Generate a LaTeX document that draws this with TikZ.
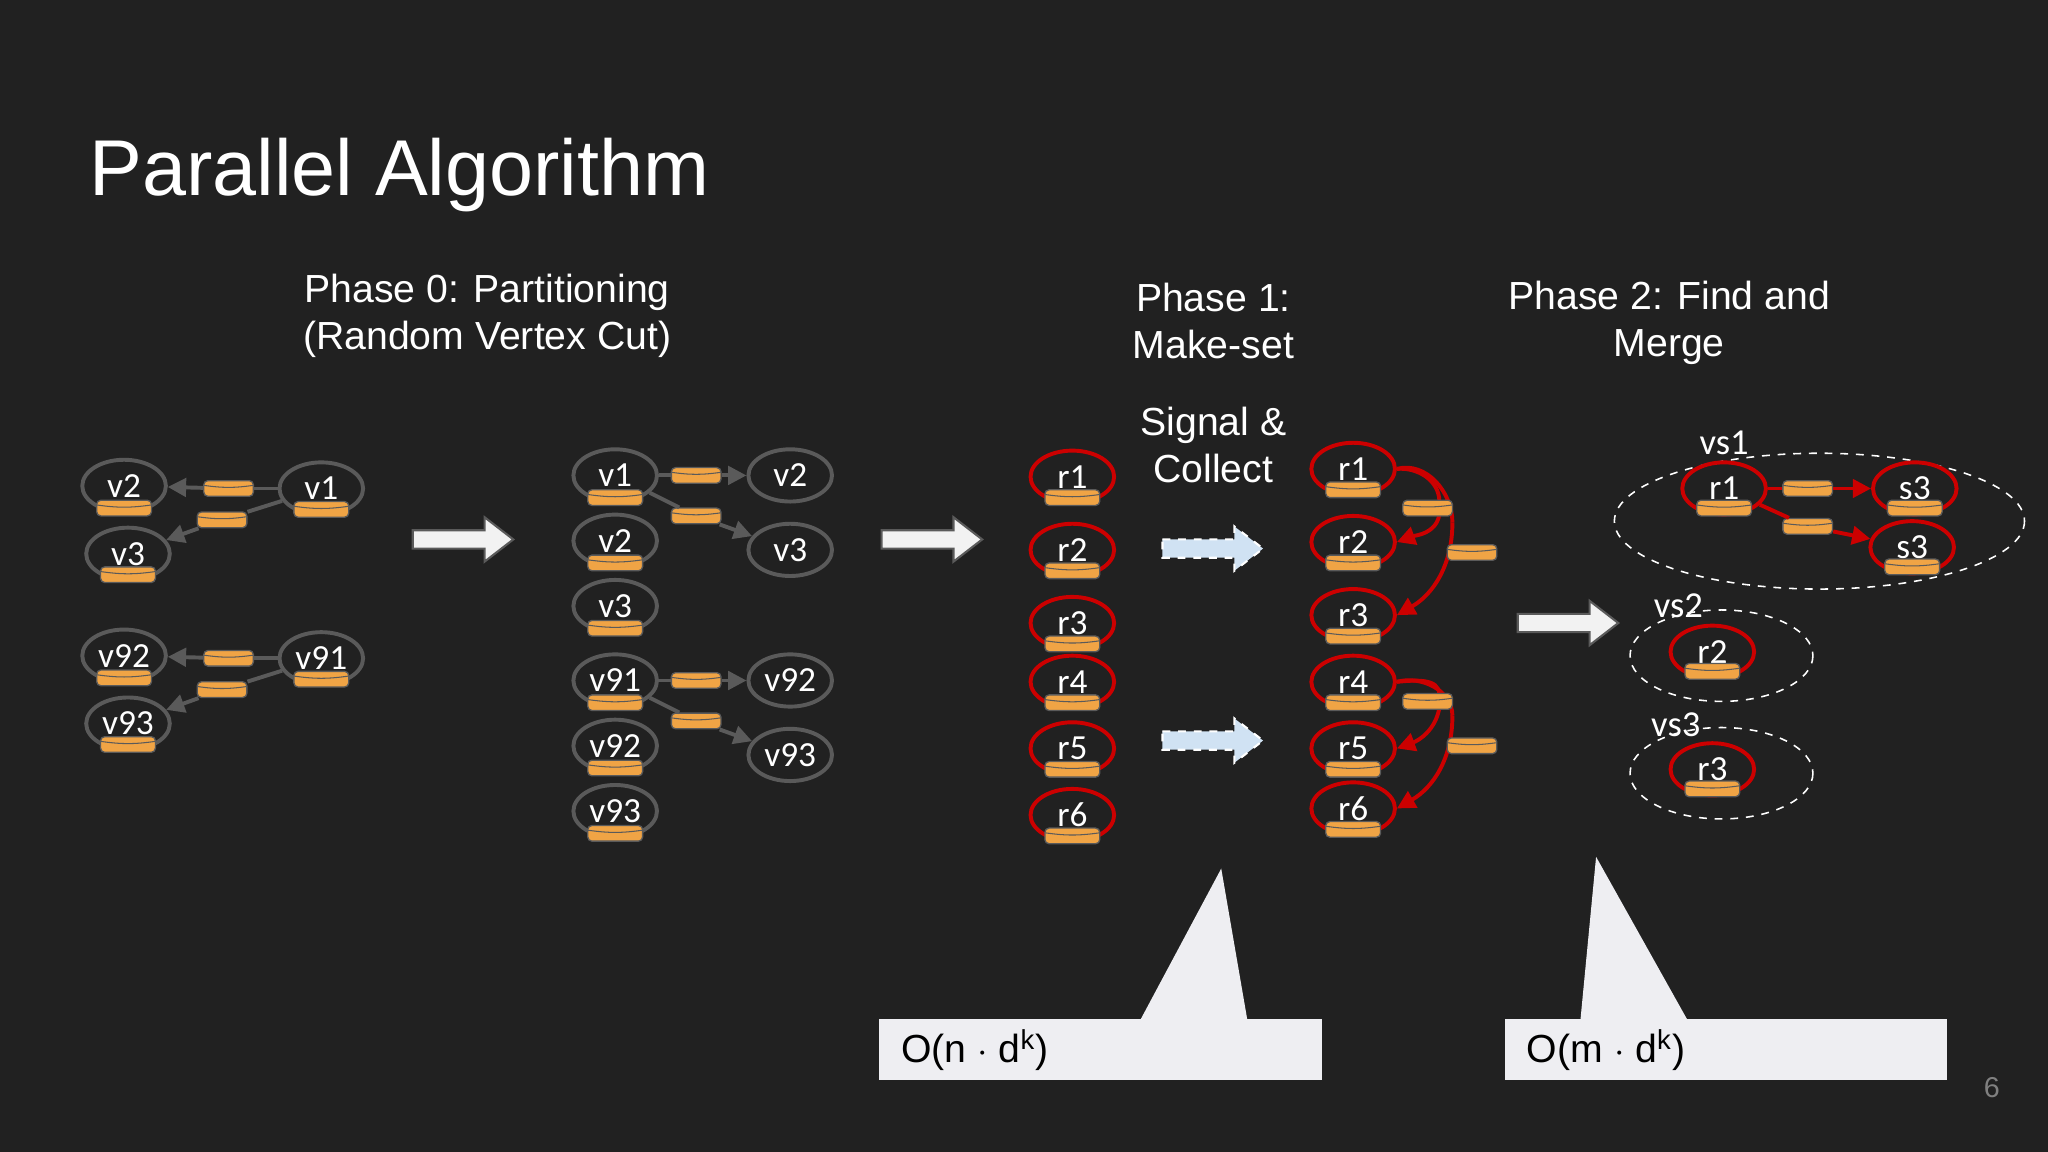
\documentclass[tikz,border=0pt]{standalone}
\usepackage{fontspec}
\setmainfont{Liberation Sans}
\newfontfamily\carl{Carlito}
\usetikzlibrary{shapes.geometric,arrows.meta}
\definecolor{bg}{HTML}{212121}
\definecolor{eg}{HTML}{5A5A5A}
\definecolor{og}{HTML}{F0A445}
\definecolor{rd}{HTML}{CC0000}
\definecolor{lb}{HTML}{D0E2F3}
\definecolor{cb}{HTML}{EEEEF2}
\tikzset{
 vx/.style={ellipse,draw=eg,line width=1.5pt,minimum width=32pt,minimum height=20pt,inner sep=0pt,text=white,font=\carl\fontsize{13.5}{12}\selectfont},
 rx/.style={vx,draw=rd},
 disk/.style={rectangle,rounded corners=1.6pt,fill=og,draw=eg,line width=0.5pt,minimum width=21pt,minimum height=6pt,inner sep=0pt,
   path picture={\draw[eg,line width=0.4pt] ([yshift=-1.8pt]path picture bounding box.north west) to[bend right=8] ([yshift=-1.8pt]path picture bounding box.north east);}},
 sdisk/.style={disk,minimum width=19pt},
 gline/.style={eg,line width=1.5pt},
 garr/.style={gline,-{Triangle[length=7pt,width=7pt]}},
 rline/.style={rd,line width=1.5pt},
 rarr/.style={rline,-{Triangle[length=7pt,width=7pt]}},
 hd/.style={text=white,font=\fontsize{15}{18}\selectfont,align=center},
 lbl/.style={text=white,font=\carl\fontsize{14}{14}\selectfont},
 dash ell/.style={draw=white,dashed,line width=0.6pt},
}
\newcommand{\blockarrow}[5]{% x y fill draw style
 \filldraw[fill=#3,draw=#4,line width=0.8pt,#5] (#1,#2-7) -- (#1+55,#2-7) -- (#1+55,#2-17) -- (#1+77,#2) -- (#1+55,#2+17) -- (#1+55,#2+7) -- (#1,#2+7) -- cycle;}
\begin{document}
\begin{tikzpicture}[x=0.5pt,y=-0.5pt]
\fill[bg] (0,0) rectangle (1568,882);
\useasboundingbox (0,0) rectangle (1568,882);
\node[anchor=base west,text=white,font=\fontsize{30.3}{34}\selectfont,inner sep=0] (title) at (68,150) {Parallel Algorithm};
\node[hd] (h0) at (373,242) {Phase 0: Partitioning\\(Random Vertex Cut)};
\node[hd] (h1) at (929,246) {Phase 1:\\Make-set};
\node[hd] (h1b) at (929,341) {Signal \&\\Collect};
\node[hd] (h2) at (1278,247) {Phase 2: Find and\\Merge};

% left groups
\foreach \y/\a/\b/\c in {0/v2/v1/v3,130/v92/v91/v93}{
 \node[vx] (L\a) at (95,372+\y) {\a};
 \node[disk] at (95,389+\y) {};
 \node[vx] (L\b) at (246,374+\y) {\b};
 \node[disk] at (246,390+\y) {};
 \node[vx] (L\c) at (98,424+\y) {\c};
 \node[disk] at (98,440+\y) {};
 \node[sdisk] (Ld\a) at (175,374+\y) {};
 \node[sdisk] (Ld\c) at (170,398+\y) {};
 \draw[gline] (L\b) -- (Ld\a);
 \draw[garr] (Ld\a) -- (L\a);
 \draw[gline] (L\b) -- (Ld\c);
 \draw[garr] (Ld\c) -- (L\c);
}
\blockarrow{316}{413}{white!95!black}{eg}{}
\blockarrow{675}{413}{white!95!black}{eg}{}
\blockarrow{1162}{477}{white!95!black}{eg}{}
\blockarrow{890}{420}{lb}{white}{dashed}
\blockarrow{890}{567}{lb}{white}{dashed}

% middle groups
\foreach \y/\a/\b/\c in {0/v1/v2/v3,157/v91/v92/v93}{
 \node[vx] (M\a) at (471,364+\y) {\a};
 \node[disk] at (471,381+\y) {};
 \node[vx] (Mr\b) at (605,364+\y) {\b};
 \node[sdisk] (Md\b) at (533,364+\y) {};
 \node[vx] (M\b) at (471,414+\y) {\b};
 \node[disk] at (471,431+\y) {};
 \node[vx] (Mr\c) at (605,421+\y) {\c};
 \node[sdisk] (Md\c) at (533,395+\y) {};
 \node[vx] (M\c) at (471,464+\y) {\c};
 \node[disk] at (471,481+\y) {};
 \draw[gline] (M\a) -- (Md\b);
 \draw[garr] (Md\b) -- (Mr\b);
 \draw[gline] (M\a) -- (Md\c);
 \draw[garr] (Md\c) -- (Mr\c);
}

% phase 1 left
\foreach \n/\y in {1/365,2/421,3/477,4/522,5/573,6/624}{
 \node[rx] (A\n) at (821,\y) {r\n};
 \node[disk] at (821,\y+16) {};
}
% phase 1 right
\foreach \n/\y in {1/359,2/415,3/471,4/522,5/573,6/619}{
 \node[rx] (B\n) at (1036,\y) {r\n};
 \node[disk] at (1036,\y+16) {};
}
\foreach \t/\m/\b/\y in {1/2/3/0,4/5/6/148}{
 \draw[rline] (B\t.east) to[out=5,in=90] (1102,384+\y);
 \draw[rarr] (1102,394+\y) to[out=-100,in=20] (B\m.east);
 \draw[rline] (B\t.east) to[out=15,in=90] (1112,400+\y);
 \draw[rarr] (1112,400+\y) to[out=-90,in=30] (B\b.east);
 \node[sdisk] (Bd\m) at (1093,389+\y) {};
 \node[sdisk] (Bd\b) at (1127,423+\y) {};
}

% phase 2
\draw[dash ell] (1393,399) ellipse [x radius=157, y radius=52];
\draw[dash ell] (1318,502) ellipse [x radius=70, y radius=35];
\draw[dash ell] (1318,592) ellipse [x radius=70, y radius=35];
\node[lbl] (vs1) at (1320,339) {vs1};
\node[lbl] (vs2) at (1285,464) {vs2};
\node[lbl] (vs3) at (1283,555) {vs3};
\node[rx] (C1) at (1320,374) {r1};
\node[disk] at (1320,389) {};
\node[rx] (S1) at (1466,374) {s3};
\node[disk] at (1466,389) {};
\node[rx] (S2) at (1464,419) {s3};
\node[disk] at (1464,434) {};
\node[sdisk] (Cd1) at (1384,374) {};
\node[sdisk] (Cd2) at (1384,403) {};
\draw[rline] (C1) -- (Cd1);
\draw[rarr] (Cd1) -- (S1);
\draw[rline] (C1) -- (Cd2);
\draw[rarr] (Cd2) -- (S2);
\node[rx] (C2) at (1311,499) {r2};
\node[disk] at (1311,514) {};
\node[rx] (C3) at (1311,589) {r3};
\node[disk] at (1311,604) {};

% callouts
\fill[cb] (673,780) rectangle (1012,827);
\fill[cb] (873,781) -- (935,665) -- (955,781) -- cycle;
\node[anchor=west,font=\fontsize{15}{18}\selectfont] (o1) at (683,804) {O(n $\cdot$ d\textsuperscript{k})};
\fill[cb] (1152,780) rectangle (1491,827);
\fill[cb] (1210,781) -- (1222,656) -- (1292,781) -- cycle;
\node[anchor=west,font=\fontsize{15}{18}\selectfont] (o2) at (1162,804) {O(m $\cdot$ d\textsuperscript{k})};
\node[text=gray,font=\fontsize{11}{12}\selectfont] (pg) at (1525,833) {6};
\end{tikzpicture}
\end{document}
